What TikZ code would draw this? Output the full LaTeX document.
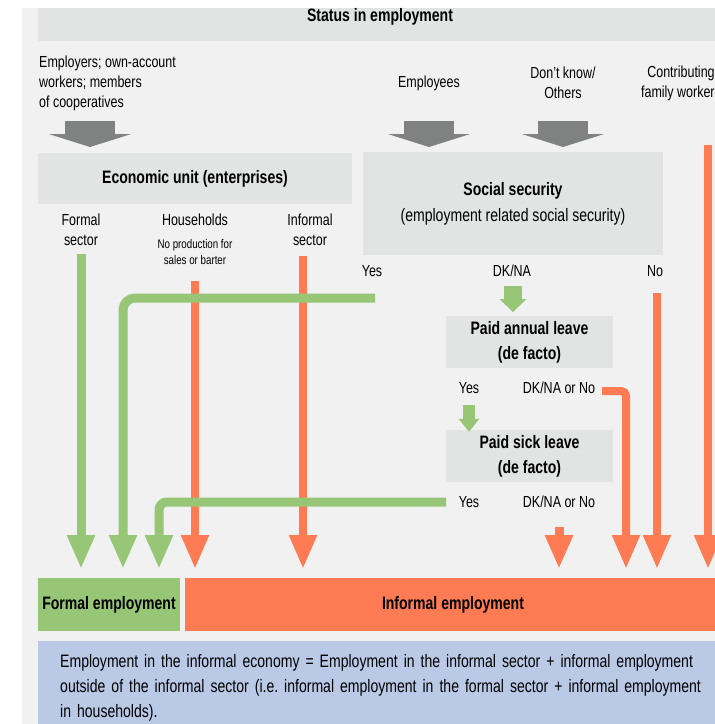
\documentclass[tikz,border=0pt]{standalone}
\usepackage{fontspec}
\setmainfont{Liberation Sans}[FakeStretch=0.78]
\usetikzlibrary{arrows.meta, calc}
\frenchspacing

\definecolor{bgpanel}{HTML}{F1F1F1}
\definecolor{boxgray}{HTML}{E2E3E3}
\definecolor{arrgray}{HTML}{808181}
\definecolor{fgreen}{HTML}{96C676}
\definecolor{forange}{HTML}{FF7B53}
\definecolor{noteblue}{HTML}{B9C9E6}

\begin{document}
\begin{tikzpicture}[x=1pt, y=-1pt,
  box/.style={fill=boxgray, inner sep=0pt},
  lbl/.style={font=\fontsize{16}{20}\selectfont, align=center, inner sep=0pt},
  head/.style={font=\bfseries\fontsize{18}{25}\selectfont, align=center, inner sep=0pt},
  small/.style={font=\fontsize{12.5}{16}\selectfont, align=center, inner sep=0pt},
  gline/.style={draw=fgreen, line width=9pt, -{Triangle[width=26pt,length=34pt]}},
  oline/.style={draw=forange, line width=8pt, -{Triangle[width=26pt,length=34pt]}},
  bigarr/.style={draw=arrgray, line width=50pt, -{Triangle[width=82pt,length=13pt]}}]
  \useasboundingbox (0,0) rectangle (715,724);
  \fill[bgpanel] (22,8) rectangle (740,740);

  % header
  \node[box, minimum width=700pt, minimum height=33pt, anchor=north west] (title) at (38,8) {};
  \node[head] (status) at (380,16.5) {Status in employment};

  \node[lbl, align=left, anchor=west] (empl) at (39,83) {Employers; own-account\\workers; members\\of cooperatives};
  \node[lbl] (emp) at (429,83) {Employees};
  \node[lbl] (dk) at (563,83) {Don’t know/\\Others};
  \node[lbl] (cfw) at (681,83) {Contributing\\family workers};

  \coordinate (arrtop) at (0,121);
  \coordinate (arrtip) at (0,147);
  \coordinate (emplarr) at (90,121);
  \draw[bigarr] (emplarr) -- (emplarr |- arrtip);
  \draw[bigarr] (emp |- arrtop) -- (emp |- arrtip);
  \draw[bigarr] (dk |- arrtop) -- (dk |- arrtip);

  % decision boxes
  \node[box, head, minimum width=314pt, minimum height=51pt] (econ) at (195,178.5) {Economic unit (enterprises)};
  \node[box, lbl, font=\fontsize{18}{26}\selectfont, minimum width=300pt, minimum height=103pt] (socsec) at (513,203.5)
    {{\bfseries Social security}\\(employment related social security)};

  \node[lbl] (formal) at (81,230) {Formal\\sector};
  \node[lbl] (hh) at (195,220) {Households};
  \node[small] (hhnote) at (195,252) {No production for\\sales or barter};
  \node[lbl] (informal) at (310,230) {Informal\\sector};

  \node[lbl] (ssyes) at (372,271) {Yes};
  \node[lbl] (ssdk) at (512,271) {DK/NA};
  \node[lbl] (ssno) at (655,271) {No};

  \node[box, head, minimum width=167pt, minimum height=52pt] (annual) at (529.5,342) {Paid annual leave\\(de facto)};
  \node[lbl] (alyes) at (469,388) {Yes};
  \node[lbl] (alno) at (559,388) {DK/NA or No};
  \node[box, head, minimum width=167pt, minimum height=52pt] (sick) at (529.5,456) {Paid sick leave\\(de facto)};
  \node[lbl] (slyes) at (469,502) {Yes};
  \node[lbl] (slno) at (559,502) {DK/NA or No};

  % outcomes
  \node[head, fill=fgreen, minimum width=142pt, minimum height=53pt] (femp) at (109,604.5) {Formal employment};
  \node[head, fill=forange, minimum width=536pt, minimum height=53pt] (iemp) at (453,604.5) {Informal employment};
  \node[fill=noteblue, anchor=north west, text width=700pt, inner xsep=22pt, inner ysep=13pt, align=left,
    font=\fontsize{18}{25}\selectfont] (note) at (38,641)
    {Employment in the informal economy = Employment in the informal sector + informal employment\\
     outside of the informal sector (i.e. informal employment in the formal sector + informal employment\\
     in households).};

  % flows
  \coordinate (drop) at (0,569);
  \coordinate (inftop) at (303,256);
  \coordinate (sstop) at (375,298);
  \coordinate (altop) at (602,391);
  \coordinate (sltop) at (446,502);
  \draw[gline] ($(formal.south)+(0,8)$) -- (formal |- drop);
  \draw[oline] ($(hhnote.south)+(0,16)$) -- (hhnote |- drop);
  \draw[oline] (inftop) -- (inftop |- drop);
  \draw[gline, rounded corners=12pt] (sstop) -| ([xshift=123pt]drop);
  \draw[gline, rounded corners=8pt] (sltop) -| ([xshift=159pt]drop);
  \draw[oline] ($(ssno.south)+(2,16)$) -- ([xshift=657pt]drop);
  \draw[oline] ($(cfw.north)+(27,80)$) -- ([xshift=708pt]drop);
  \draw[oline, rounded corners=5pt] (altop) -| ([xshift=626pt]drop);
  \draw[fgreen, line width=18pt, -{Triangle[width=26pt,length=13pt]}] ($(ssdk.south)+(1,9)$) -- ($(ssdk.south)+(1,35)$);
  \draw[fgreen, line width=12pt, -{Triangle[width=20pt,length=13pt]}] ($(alyes.south)+(0,11)$) -- ($(alyes.south)+(0,38)$);
  \draw[oline, line width=9pt] ($(slno.south)+(0,19)$) -- (slno |- drop);
\end{tikzpicture}
\end{document}
